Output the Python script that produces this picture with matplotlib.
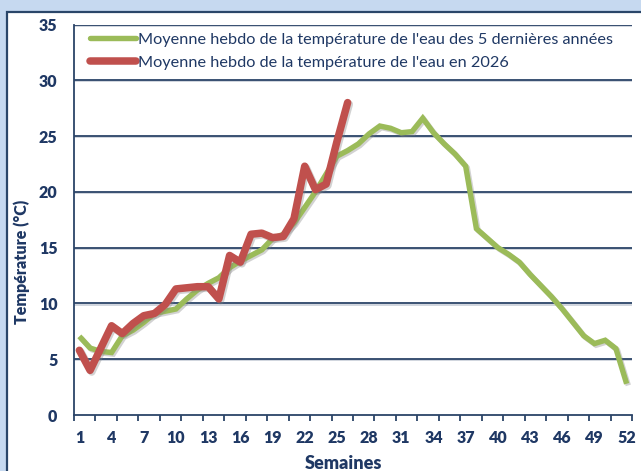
import matplotlib
matplotlib.use("Agg")
import matplotlib.pyplot as plt
import matplotlib.patheffects as pe
from matplotlib.patches import Rectangle

# Weekly water temperature (°C)
weeks = list(range(1, 53))
avg_5_years = [7.05, 6.0, 5.7, 5.6, 7.1, 7.6, 8.3, 9.1, 9.3, 9.5,
               10.4, 11.2, 11.8, 12.3, 13.2, 13.8, 14.3, 14.8, 15.8, 16.2,
               17.2, 18.6, 20.0, 21.6, 23.2, 23.7, 24.3, 25.2, 25.9, 25.7,
               25.3, 25.4, 26.6, 25.3, 24.3, 23.4, 22.3, 16.7, 15.85, 15.0,
               14.4, 13.7, 12.6, 11.6, 10.6, 9.5, 8.3, 7.1, 6.4, 6.7,
               5.95, 2.8]
weeks_2026 = list(range(1, 27))
temp_2026 = [5.8, 4.0, 6.0, 8.0, 7.3, 8.2, 8.9, 9.1, 9.9, 11.3,
             11.4, 11.5, 11.5, 10.4, 14.3, 13.7, 16.2, 16.3, 15.9, 16.0,
             17.6, 22.3, 20.2, 20.7, 24.5, 28.0]
label_avg = "Moyenne hebdo de la température de l'eau des 5 dernières années"
label_2026 = "Moyenne hebdo de la température de l'eau en 2026"
x_labels = list(range(1, 53, 3))
y_ticks = list(range(0, 36, 5))

NAVY = "#1f3864"
GRID = "#2b4468"
GREEN = "#9bbb59"
RED = "#c0504d"
FONT = "Lato"

W, H = 641, 471
fig = plt.figure(figsize=(W / 100, H / 100), dpi=100)
fig.patch.set_facecolor("#c6d9f0")

# White chart frame
frame = Rectangle((7 / W, -0.05), 1.1, 1 - 12 / H + 0.05,
                  transform=fig.transFigure, facecolor="white",
                  edgecolor="#2a4669", linewidth=1.6, zorder=-10)
fig.patches.append(frame)

ax = fig.add_axes([74 / W, (H - 415) / H, (632 - 74) / W, (415 - 24.5) / H])
ax.set_zorder(1)
ax.set_facecolor("white")

shadow = [pe.SimpleLineShadow(offset=(1.2, -1.2), shadow_color="#808080", alpha=0.35),
          pe.Normal()]

ax.plot(weeks, avg_5_years, color=GREEN, lw=3.9, solid_joinstyle="miter",
        solid_capstyle="butt", label=label_avg, zorder=3, path_effects=shadow)
ax.plot(weeks_2026, temp_2026, color=RED, lw=5.4, solid_joinstyle="round",
        solid_capstyle="round", label=label_2026, zorder=4, path_effects=shadow)

ax.set_xlim(0.5, 52.5)
ax.set_ylim(0, 35)

# Horizontal gridlines
for y in y_ticks[1:]:
    ax.axhline(y, color=GRID, lw=1.3, zorder=1,
               path_effects=[pe.SimpleLineShadow(offset=(0.8, -0.8), shadow_color="#9aa6b8", alpha=0.5),
                             pe.Normal()])

for s in ["top", "right"]:
    ax.spines[s].set_visible(False)
for s in ["left", "bottom"]:
    ax.spines[s].set_color(GRID)
    ax.spines[s].set_linewidth(1.3)

# Category boundaries carry the tick marks, week numbers sit between them
ax.set_xticks([0.5 + 2 * i for i in range(27)])
ax.set_xticklabels([])
ax.tick_params(axis="x", which="major", direction="out", length=4, width=1.3, color=GRID)
ax.set_xticks(x_labels, minor=True)
ax.set_xticklabels([str(v) for v in x_labels], minor=True)
ax.tick_params(axis="x", which="minor", length=0, pad=11,
               labelsize=11.5, labelcolor=NAVY)

ax.set_yticks(y_ticks)
ax.set_yticklabels([str(v) for v in y_ticks])
ax.tick_params(axis="y", length=0, pad=12, labelsize=11.5, labelcolor=NAVY)

for lab in ax.get_xticklabels(minor=True) + ax.get_yticklabels():
    lab.set_fontfamily(FONT)
    lab.set_fontweight("heavy")

ax.set_xlabel("Semaines", fontsize=13, fontweight="heavy", color=NAVY, family=FONT)
ax.xaxis.set_label_coords(0.482, -0.103)
ax.set_ylabel("Température (°C)", fontsize=11.5, fontweight="heavy", color=NAVY, family=FONT)
ax.yaxis.set_label_coords(-0.094, 0.392)
ax.yaxis.label.set_verticalalignment("center")

leg = ax.legend(loc="upper left", bbox_to_anchor=(0.015, 1.0), frameon=False,
                prop={"family": FONT, "size": 11.7}, handlelength=2.8,
                handletextpad=0.12, labelspacing=0.52, borderaxespad=0.2,
                borderpad=0.3)
for t in leg.get_texts():
    t.set_color(NAVY)
for h in leg.legend_handles:
    h.set_path_effects([])
    h.set_solid_capstyle("round")

fig.savefig("out.png", dpi=100, facecolor=fig.get_facecolor())
